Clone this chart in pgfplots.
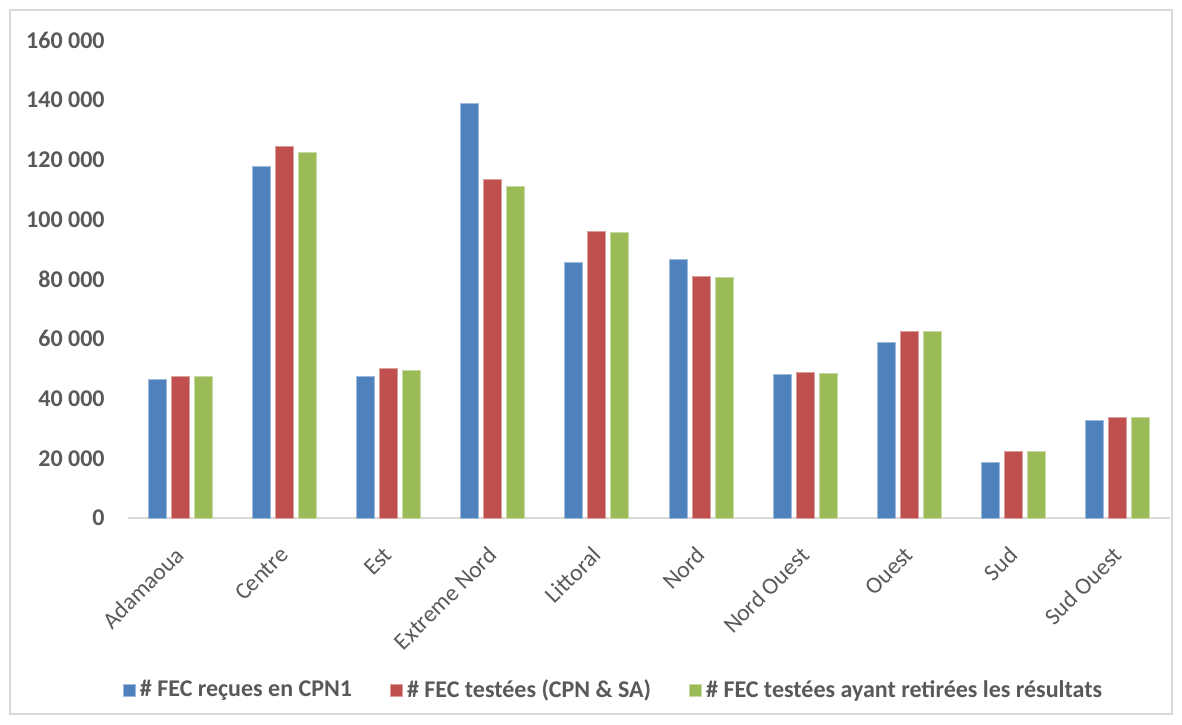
\documentclass[border=0pt]{standalone}
\usepackage{pgfplots}
\pgfplotsset{compat=1.18}
\usepackage{fontspec}
\setmainfont{Carlito}
\definecolor{c1}{HTML}{4F81BD}
\definecolor{c2}{HTML}{C0504D}
\definecolor{c3}{HTML}{9BBB59}
\definecolor{txt}{HTML}{595959}
\definecolor{axl}{HTML}{D9D9D9}
\begin{document}
\begin{tikzpicture}
\path (0pt,0pt) rectangle (591pt,362pt);
\draw[axl, line width=0.6pt] (5pt,5pt) rectangle (586pt,357pt);
\begin{axis}[
  scale only axis, width=521pt, height=239pt,
  at={(64pt,103pt)}, anchor=south west,
  xmin=-0.5, xmax=9.5, ymin=0, ymax=160000,
  scaled y ticks=false,
  axis x line*=bottom, axis y line*=left,
  x axis line style={axl, line width=1pt},
  y axis line style={draw=none},
  major tick length=0pt,
  xtick={0,...,9},
  xticklabels={Adamaoua, Centre, Est, Extreme Nord, Littoral, Nord, Nord Ouest, Ouest, Sud, Sud Ouest},
  ytick={0,20000,40000,60000,80000,100000,120000,140000,160000},
  yticklabels={0,20 000,40 000,60 000,80 000,100 000,120 000,140 000,160 000},
  yticklabel style={font=\fontsize{12}{14}\selectfont\bfseries, text=txt, anchor=east, inner sep=0pt, xshift=-11.5pt},
  xticklabel style={font=\fontsize{11.8}{13}\selectfont, text=txt, yshift=-16.5pt, rotate=45, anchor=east, inner sep=0pt},
  ybar=2.5pt, bar width=9pt,
  legend columns=3,
  legend style={at={(0.467,-0.36)}, anchor=center, draw=none, font=\fontsize{12}{14}\selectfont\bfseries, text=txt,
    /tikz/every even column/.append style={column sep=17pt}},
  legend image code/.code={\fill[#1] (0pt,-3pt) rectangle (6pt,3pt);},
]
\addplot[fill=c1, draw=c1!55!white, line width=0.5pt] coordinates {(0,46200) (1,117600) (2,47500) (3,138600) (4,85600) (5,86400) (6,48200) (7,58800) (8,18700) (9,32600)};
\addplot[fill=c2, draw=c2!55!white, line width=0.5pt] coordinates {(0,47200) (1,124500) (2,50200) (3,113400) (4,96000) (5,80800) (6,48800) (7,62300) (8,22100) (9,33500)};
\addplot[fill=c3, draw=c3!55!white, line width=0.5pt] coordinates {(0,47200) (1,122500) (2,49400) (3,111000) (4,95700) (5,80400) (6,48500) (7,62300) (8,22100) (9,33500)};
\legend{\# FEC reçues en CPN1, \# FEC testées (CPN \& SA), \# FEC testées ayant retirées les résultats}
\end{axis}
\end{tikzpicture}
\end{document}
